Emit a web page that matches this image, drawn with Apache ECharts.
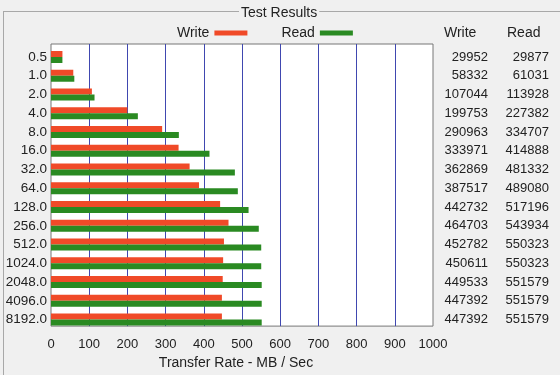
<!DOCTYPE html>
<html>
<head>
<meta charset="utf-8">
<script src="https://cdn.jsdelivr.net/npm/echarts@6/dist/echarts.min.js"></script>
<style>
html,body{margin:0;padding:0;background:#f0f0f0;}
#c{width:560px;height:375px;}
</style>
</head>
<body>
<div id="c"></div>
<script>
var transferSizes = ['0.5','1.0','2.0','4.0','8.0','16.0','32.0','64.0','128.0','256.0','512.0','1024.0','2048.0','4096.0','8192.0'];
var writeKB = [29952,58332,107044,199753,290963,333971,362869,387517,442732,464703,452782,450611,449533,447392,447392];
var readKB  = [29877,61031,113928,227382,334707,414888,481332,489080,517196,543934,550323,550323,551579,551579,551579];
var xTicks = [0,100,200,300,400,500,600,700,800,900,1000];

var FONT = 'Liberation Sans';
var chart = echarts.init(document.getElementById('c'), null, {renderer:'canvas'});
chart.setOption({
  backgroundColor:'#f0f0f0',
  animation:false,
  textStyle:{fontFamily:FONT},
  legend:{
    top:21, left:172, align:'right', itemWidth:33, itemHeight:5, itemGap:34,
    icon:'rect',
    textStyle:{fontFamily:FONT,fontSize:14,color:'#222'},
    data:['Write','Read']
  },
  grid:[
    {left:51, top:44, right:127, bottom:43, show:true, backgroundColor:'#ffffff', borderColor:'#777', borderWidth:1},
    {left:51, top:47.6, right:127, bottom:46}
  ],
  xAxis:[{
    gridIndex:0, type:'value', min:xTicks[0], max:xTicks[xTicks.length-1], interval:100,
    axisLine:{show:false}, axisTick:{show:false},
    axisLabel:{fontFamily:FONT,fontSize:13,color:'#222',margin:12,formatter:function(v){return String(v);}},
    splitLine:{show:true, showMinLine:false, showMaxLine:false, lineStyle:{color:'#4048b0',width:1}},
    name:'Transfer Rate - MB / Sec', nameLocation:'middle', nameGap:27,
    nameTextStyle:{fontFamily:FONT,fontSize:14,color:'#222',padding:[0,12,0,0]}
  },{
    gridIndex:1, type:'value', min:xTicks[0], max:xTicks[xTicks.length-1], interval:100,
    show:false, splitLine:{show:false}
  }],
  yAxis:[{
    gridIndex:0, type:'category', data:[''], show:false
  },{
    gridIndex:1, type:'category', inverse:true, data:transferSizes,
    axisLine:{show:false}, axisTick:{show:false},
    axisLabel:{fontFamily:FONT,fontSize:13.5,color:'#222',margin:4}
  },{
    gridIndex:1, type:'category', inverse:true, position:'right', data:writeKB.map(String),
    axisLine:{show:false}, axisTick:{show:false},
    axisLabel:{fontFamily:FONT,fontSize:13,color:'#222',margin:55,align:'right'}
  },{
    gridIndex:1, type:'category', inverse:true, position:'right', data:readKB.map(String),
    axisLine:{show:false}, axisTick:{show:false},
    axisLabel:{fontFamily:FONT,fontSize:13,color:'#222',margin:116,align:'right'}
  }],
  series:[{
    name:'Write', type:'bar', xAxisIndex:1, yAxisIndex:1, barWidth:6, barGap:'0%',
    itemStyle:{color:'#f04a28'},
    data:writeKB.map(function(v){return v/1000;})
  },{
    name:'Read', type:'bar', xAxisIndex:1, yAxisIndex:1, barWidth:6, barGap:'0%',
    itemStyle:{color:'#2a8a22'},
    data:readKB.map(function(v){return v/1000;})
  }],
  graphic:[
    {type:'line', shape:{x1:3,y1:11.5,x2:560,y2:11.5}, style:{stroke:'#a8a8a8',lineWidth:1}},
    {type:'line', shape:{x1:3.5,y1:11,x2:3.5,y2:375}, style:{stroke:'#a8a8a8',lineWidth:1}},
    {type:'text', left:239, top:6, style:{text:'Test Results', font:'14px "Liberation Sans"', fill:'#222', backgroundColor:'#f0f0f0', padding:[0,2]}},
    {type:'text', left:444, top:26, style:{text:'Write', font:'14px "Liberation Sans"', fill:'#222'}},
    {type:'text', left:507, top:26, style:{text:'Read', font:'14px "Liberation Sans"', fill:'#222'}}
  ]
});
</script>
</body>
</html>
